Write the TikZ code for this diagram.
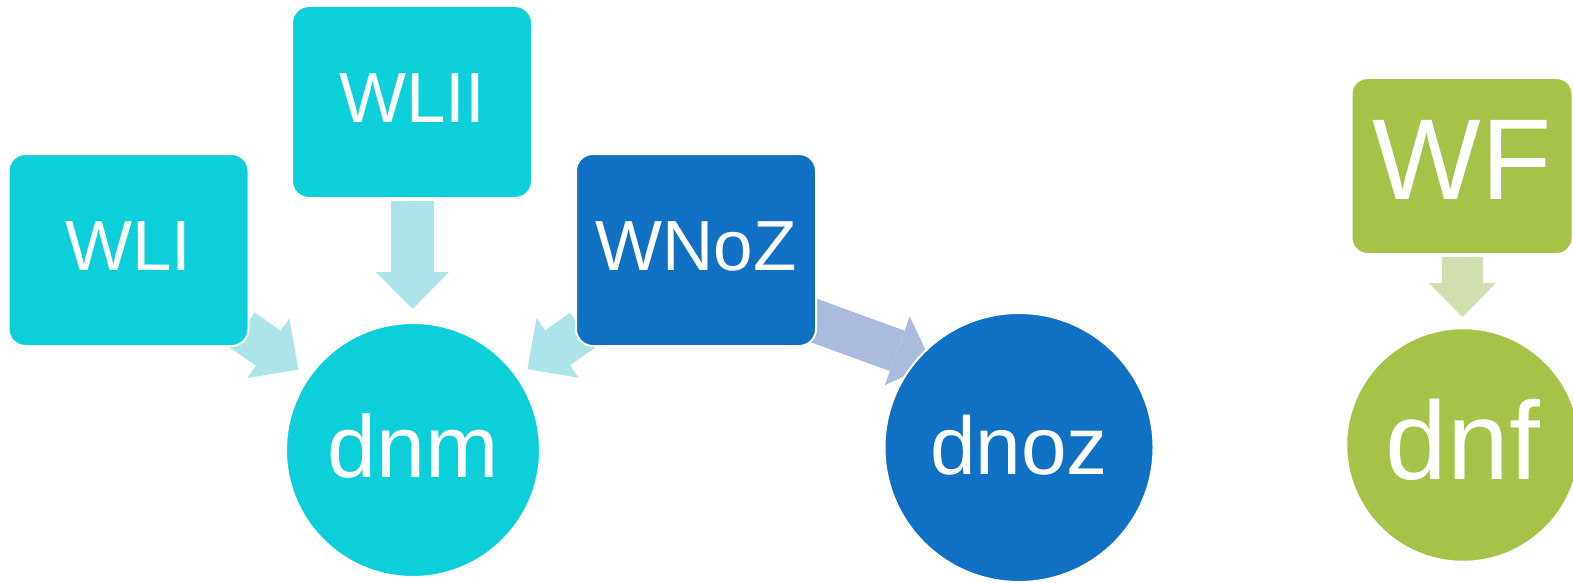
\documentclass[tikz,border=0pt]{standalone}
\usepackage{fontspec}
\setmainfont{Liberation Sans}
\usetikzlibrary{arrows.meta,backgrounds}

\definecolor{wcyan}{RGB}{13,207,218}
\definecolor{wblue}{RGB}{16,112,196}
\definecolor{wgreen}{RGB}{166,194,73}
\definecolor{lcyan}{RGB}{173,228,233}
\definecolor{lblue}{RGB}{171,187,222}
\definecolor{lgreen}{RGB}{208,222,176}

\tikzset{
  wbox/.style={rectangle, rounded corners=17pt, draw=white, line width=2pt,
    minimum width=240pt, minimum height=192pt, inner sep=0pt, text=white,
    text depth=8pt, font=\fontsize{71}{71}\selectfont},
  dball/.style={circle, draw=white, line width=2pt, inner sep=0pt,
    text=white, text depth=6pt, font=\fontsize{86}{86}\selectfont},
  bigarrow/.style={line width=43pt,
    -{Triangle[length=37pt,width=73pt,line width=0pt]}},
  smallarrow/.style={line width=41pt,
    -{Triangle[length=34pt,width=67pt,line width=0pt]}},
}

\begin{document}
\begin{tikzpicture}[x=1pt,y=-1pt]
  \useasboundingbox (0,0) rectangle (1573,583);

  % boxes
  \node[wbox, fill=wcyan] (wli) at (128.5,250) {WLI};
  \node[wbox, fill=wcyan] (wlii) at (412,102) {WLII};
  \node[wbox, fill=wblue] (wnoz) at (696,250) {WNoZ};
  \node[wbox, fill=wgreen, minimum width=221pt, minimum height=176pt,
    rounded corners=16pt, text depth=12pt, font=\fontsize{115}{115}\selectfont]
    (wf) at (1462,166) {WF};

  % balls
  \node[dball, fill=wcyan, minimum size=254pt, text depth=9pt,
    font=\fontsize{88}{88}\selectfont] (dnm) at (413,450) {dnm};
  \node[dball, fill=wblue, minimum size=269pt,
    font=\fontsize{82}{82}\selectfont] (dnoz) at (1019,447.5) {dnoz};
  \node[dball, fill=wgreen, minimum size=233.5pt, text depth=12pt,
    font=\fontsize{111}{111}\selectfont] (dnf) at (1463,445) {dnf};

  % arrows
  \begin{pgfonlayer}{background}
    \draw[bigarrow, lcyan, shorten <=139pt, shorten >=140pt] (wli.center) -- (dnm.center);
    \draw[bigarrow, lcyan, shorten <=99pt, shorten >=141pt] (wlii.center) -- (dnm.center);
    \draw[bigarrow, lcyan, shorten <=139pt, shorten >=140pt] (wnoz.center) -- (dnm.center);
    \draw[bigarrow, lblue] ([xshift=-10pt,yshift=-68pt]wnoz.east)
      -- ([xshift=-87pt,yshift=84pt]dnoz.center);
    \draw[smallarrow, lgreen, shorten <=91pt, shorten >=128pt] (wf.center) -- (dnf.center);
  \end{pgfonlayer}
\end{tikzpicture}
\end{document}
